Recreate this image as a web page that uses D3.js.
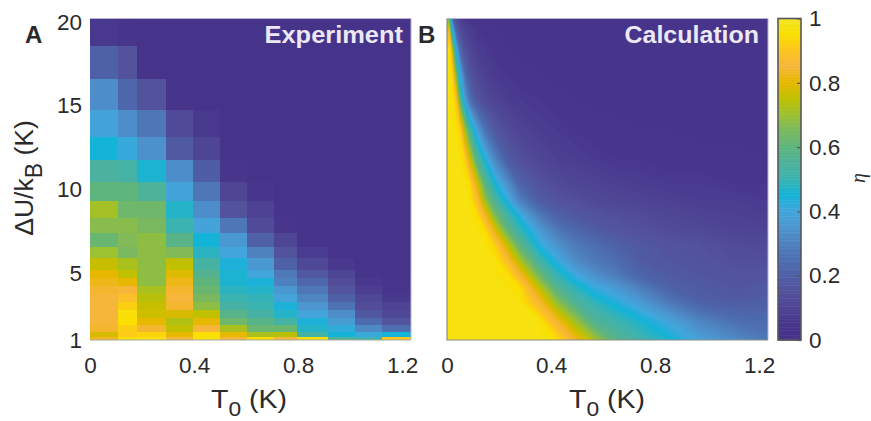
<!DOCTYPE html>
<html>
<head>
<meta charset="utf-8">
<script src="https://cdn.jsdelivr.net/npm/d3@7"></script>
<style>
  body { margin: 0; background: #fff; }
  text { font-family: "Liberation Sans", Arial, sans-serif; fill: #2b2a2b; }
</style>
</head>
<body>
<div id="chart"></div>
<script>
// Colour map
const colorStops = [0, .05, .1, .15, .2, .25, .3, .35, .4, .45, .5, .55, .6, .65, .7, .75, .8, .85, .9, .95, 1];
const colorHex = ['#46328a', '#48368c', '#4e4595', '#53529c', '#4e60a6', '#4d6fb2', '#4e82bf', '#4c95cf', '#42a6dc',
  '#14b3d8', '#3bb3b0', '#4eb29a', '#5eb57c', '#7ab85f', '#9cc131', '#c0c000', '#e6b800', '#f6b63a', '#fcc51d', '#fadf00', '#f2e426'];

// Panel A: measured cells, one array per T0 column, rows from 20 K down to 1 K
const expT0Edges = [0, .108, .181, .292, .396, .5, .604, .708, .796, .915, 1.019, 1.123, 1.234];
const expUEdges = [20, 18.4, 16.4, 14.6, 13, 11.65, 10.35, 9.2, 8.2, 7.3, 6.5, 5.85, 5.15, 4.65, 4.2, 3.7, 3.25, 2.8, 2.3, 1.9, 1.5, 1.2, 1];
const expColumns = [
  [.06, .2, .33, .39, .45, .54, .6, .71, .67, .62, .7, .76, .8, .82, .84, .85, .85, .85, .85, .84, .78, .83],
  [.02, .15, .22, .33, .41, .53, .6, .63, .67, .66, .65, .72, .75, .8, .85, .88, .92, .96, .95, .92, .91, .96],
  [.01, .01, .15, .27, .34, .46, .55, .63, .65, .68, .68, .68, .68, .68, .72, .74, .76, .77, .8, .84, .93, .97],
  [.01, .01, .02, .12, .18, .33, .39, .47, .5, .58, .66, .75, .79, .82, .84, .85, .84, .78, .73, .75, .8, .86],
  [.01, .01, .01, .06, .1, .19, .27, .33, .39, .45, .48, .53, .57, .6, .62, .65, .68, .75, .8, .85, .95, .97],
  [.01, .01, .01, .01, .01, .05, .1, .15, .27, .36, .4, .44, .46, .46, .48, .5, .53, .58, .63, .72, .8, .85],
  [.01, .01, .01, .01, .01, .01, .04, .09, .12, .2, .3, .36, .4, .44, .47, .49, .5, .53, .58, .62, .72, .95],
  [.01, .01, .01, .01, .01, .01, .01, .03, .05, .1, .15, .2, .28, .3, .36, .39, .44, .47, .53, .62, .74, .85],
  [.01, .01, .01, .01, .01, .01, .01, .01, .01, .03, .07, .11, .17, .22, .27, .31, .35, .39, .44, .47, .53, .95],
  [.01, .01, .01, .01, .01, .01, .01, .01, .01, .01, .01, .06, .1, .13, .16, .2, .26, .33, .37, .42, .45, .55],
  [.01, .01, .01, .01, .01, .01, .01, .01, .01, .01, .01, .01, .03, .06, .08, .11, .13, .17, .24, .32, .41, .5],
  [.01, .01, .01, .01, .01, .01, .01, .01, .01, .01, .01, .01, .01, .02, .04, .06, .09, .11, .16, .25, .45, .9]
];

// Panel B: values sampled by eye on a grid that is finer where the band is narrow
const calcT0 = [0, .008, .015, .023, .035, .05, .069, .088, .115, .146, .184, .231, .281, .358, .423, .492, .569, .646, .742, .857, .972, 1.107, 1.234];
const calcU = [20, 19.3, 18.2, 16.7, 15.2, 13.4, 11.65, 10.2, 9.28, 8.4, 7.5, 6.6, 5.73, 4.85, 4.08, 3.25, 2.05, 1];
const calcRows = [
  [.7, .6, .42, .22, .14, .09, .07, .05, .04, .04, .03, .03, .03, .02, .02, .02, .02, .02, .02, .02, .02, .02, .02],
  [.8, .85, .55, .4, .22, .14, .1, .08, .06, .05, .04, .03, .03, .02, .02, .02, .02, .02, .02, .02, .02, .02, .02],
  [.96, .96, .9, .65, .42, .24, .15, .11, .08, .07, .05, .04, .03, .02, .02, .02, .02, .02, .02, .02, .02, .02, .02],
  [.97, .97, .96, .9, .65, .42, .25, .17, .12, .09, .07, .06, .05, .04, .03, .02, .02, .02, .02, .02, .02, .02, .02],
  [.97, .97, .97, .96, .9, .6, .38, .26, .17, .13, .1, .08, .07, .06, .05, .04, .035, .03, .03, .03, .02, .02, .02],
  [.97, .97, .97, .97, .97, .93, .72, .55, .39, .27, .18, .13, .1, .08, .07, .06, .05, .05, .04, .04, .03, .03, .03],
  [.97, .97, .97, .97, .97, .97, .93, .78, .58, .45, .32, .2, .15, .11, .09, .08, .07, .06, .06, .05, .05, .05, .04],
  [.97, .97, .97, .97, .97, .97, .97, .95, .8, .6, .46, .35, .22, .16, .13, .11, .1, .09, .08, .07, .07, .06, .06],
  [.97, .97, .97, .97, .97, .97, .97, .97, .88, .7, .55, .43, .3, .19, .16, .14, .12, .11, .1, .09, .08, .08, .07],
  [.97, .97, .97, .97, .97, .97, .97, .97, .95, .84, .66, .53, .42, .28, .21, .18, .16, .14, .13, .11, .1, .09, .08],
  [.97, .97, .97, .97, .97, .97, .97, .97, .97, .95, .8, .62, .5, .37, .28, .23, .19, .17, .15, .13, .12, .1, .1],
  [.97, .97, .97, .97, .97, .97, .97, .97, .97, .97, .93, .77, .6, .43, .35, .29, .25, .21, .18, .16, .15, .13, .12],
  [.97, .97, .97, .97, .97, .97, .97, .97, .97, .97, .97, .88, .72, .52, .42, .33, .28, .25, .19, .17, .16, .14, .14],
  [.97, .97, .97, .97, .97, .97, .97, .97, .97, .97, .97, .96, .85, .63, .5, .41, .34, .29, .22, .19, .17, .16, .16],
  [.97, .97, .97, .97, .97, .97, .97, .97, .97, .97, .97, .97, .95, .75, .58, .49, .42, .37, .3, .21, .19, .17, .18],
  [.97, .97, .97, .97, .97, .97, .97, .97, .97, .97, .97, .97, .97, .85, .69, .56, .49, .44, .37, .28, .21, .19, .2],
  [.97, .97, .97, .97, .97, .97, .97, .97, .97, .97, .97, .97, .97, .97, .85, .72, .57, .52, .47, .4, .32, .26, .24],
  [.97, .97, .97, .97, .97, .97, .97, .97, .97, .97, .97, .97, .97, .97, .95, .84, .72, .59, .52, .46, .39, .33, .28]
];

// Tick labels
const t0Ticks = [0, .4, .8, 1.2];
const uTicks = [1, 5, 10, 15, 20];
const barTicks = [0, .2, .4, .6, .8, 1];

const width = 871, height = 421;
const plotTop = 18.5, plotBottom = 340;
const panelA = { left: 90, right: 411 };
const panelB = { left: 447, right: 768 };

const color = d3.scaleLinear().domain(colorStops).range(colorHex).clamp(true);
const yScale = d3.scaleLinear().domain([1, 20]).range([plotBottom, plotTop]);
const yLabel = d3.scaleLinear().domain([1, 20]).range([plotBottom, plotTop + 3.5]);
const xA = d3.scaleLinear().domain([0, 1.234]).range([panelA.left, panelA.right]);
const xB = d3.scaleLinear().domain([0, 1.234]).range([panelB.left, panelB.right]);

const svg = d3.select('#chart').append('svg')
  .attr('width', width)
  .attr('height', height)
  .style('display', 'block');

// Panel A cells
svg.append('rect')
  .attr('x', panelA.left)
  .attr('y', plotTop)
  .attr('width', panelA.right - panelA.left)
  .attr('height', plotBottom - plotTop)
  .attr('fill', color(0.01));
const cells = expColumns.flatMap((col, i) => col.map((v, j) => ({ i, j, v })));
svg.append('g')
  .attr('shape-rendering', 'crispEdges')
  .selectAll('rect')
  .data(cells)
  .join('rect')
  .attr('x', d => xA(expT0Edges[d.i]))
  .attr('y', d => yScale(expUEdges[d.j]))
  .attr('width', d => xA(expT0Edges[d.i + 1]) - xA(expT0Edges[d.i]))
  .attr('height', d => yScale(expUEdges[d.j + 1]) - yScale(expUEdges[d.j]))
  .attr('fill', d => color(d.v));

// Panel B as nested filled contours, grid indices mapped back to data units
const nx = calcT0.length, ny = calcU.length;
const colIndex = d3.scaleLinear().domain(d3.range(nx)).range(calcT0).clamp(true);
const rowIndex = d3.scaleLinear().domain(d3.range(ny)).range(calcU).clamp(true);
const contours = d3.contours()
  .size([nx, ny])
  .thresholds(d3.range(0, 1, 0.01))(calcRows.flat());

const projection = d3.geoTransform({
  point(px, py) {
    this.stream.point(xB(colIndex(px - 0.5)), yScale(rowIndex(py - 0.5)));
  }
});
svg.append('rect')
  .attr('x', panelB.left)
  .attr('y', plotTop)
  .attr('width', panelB.right - panelB.left)
  .attr('height', plotBottom - plotTop)
  .attr('fill', color(0));
svg.append('g')
  .selectAll('path')
  .data(contours)
  .join('path')
  .attr('d', d3.geoPath(projection))
  .attr('fill', d => color(d.value));

// Frames
svg.append('path')
  .attr('d', `M${panelA.left},${plotTop}H${panelA.right}V${plotBottom}`)
  .attr('fill', 'none')
  .attr('stroke', '#b9b3d6');
svg.append('path')
  .attr('d', `M${panelA.left},${plotBottom}H${panelA.right}`)
  .attr('fill', 'none')
  .attr('stroke', '#a8a8a0');
svg.append('path')
  .attr('d', `M${panelB.left},${plotTop}H${panelB.right}V${plotBottom}`)
  .attr('fill', 'none')
  .attr('stroke', '#b9b3d6');
svg.append('path')
  .attr('d', `M${panelB.left},${plotTop}V${plotBottom}H${panelB.right}`)
  .attr('fill', 'none')
  .attr('stroke', '#8c8c84')
  .attr('stroke-width', 1.2);

// Axes
function styleAxis(g) {
  g.select('.domain').remove();
  g.selectAll('.tick line').remove();
  g.selectAll('.tick text')
    .style('font-family', '"Liberation Sans", Arial, sans-serif')
    .style('font-size', '22.5px')
    .style('fill', '#2b2a2b');
}
const fmt = d => d === 0 ? '0' : String(d);
svg.append('g')
  .attr('transform', `translate(0,${plotBottom})`)
  .call(d3.axisBottom(xA).tickValues(t0Ticks).tickFormat(fmt).tickSize(0).tickPadding(17))
  .call(styleAxis);
svg.append('g')
  .attr('transform', `translate(0,${plotBottom})`)
  .call(d3.axisBottom(xB).tickValues(t0Ticks).tickFormat(fmt).tickSize(0).tickPadding(17))
  .call(styleAxis);
svg.append('g')
  .attr('transform', 'translate(82,0)')
  .call(d3.axisLeft(yLabel).tickValues(uTicks).tickSize(0).tickPadding(0))
  .call(styleAxis);

// Axis titles with subscripts
function t0Title(cx) {
  const t = svg.append('text')
    .attr('transform', `translate(${cx},408) scale(1.14,1)`)
    .attr('text-anchor', 'middle')
    .attr('font-size', 25);
  t.append('tspan').text('T');
  t.append('tspan').attr('dy', 8).attr('font-size', 20).text('0');
  t.append('tspan').attr('dy', -8).text(' (K)');
}
t0Title(249);
t0Title(607);

const yTitle = svg.append('text')
  .attr('transform', 'translate(33,178) rotate(-90)')
  .attr('text-anchor', 'middle')
  .attr('font-size', 26.5);
yTitle.append('tspan').text('\u0394U/k');
yTitle.append('tspan').attr('dy', 9).attr('font-size', 23).text('B');
yTitle.append('tspan').attr('dy', -9).text(' (K)');

// Panel letters and names
svg.append('text').attr('x', 25).attr('y', 43).attr('font-size', 24).attr('font-weight', 'bold').text('A');
svg.append('text').attr('x', 418).attr('y', 43).attr('font-size', 24).attr('font-weight', 'bold').text('B');
svg.append('text')
  .attr('transform', 'translate(403,43) scale(1.06,1)')
  .attr('text-anchor', 'end')
  .attr('font-size', 24)
  .attr('font-weight', 'bold')
  .style('fill', '#ece8f4')
  .text('Experiment');
svg.append('text')
  .attr('transform', 'translate(759,43) scale(1.04,1)')
  .attr('text-anchor', 'end')
  .attr('font-size', 24)
  .attr('font-weight', 'bold')
  .style('fill', '#ece8f4')
  .text('Calculation');

// Colour bar
const barX = 778, barW = 23;
const barScale = d3.scaleLinear().domain([0, 1]).range([plotBottom, plotTop]);
const barSteps = d3.range(0, 1, 0.005);
svg.append('g')
  .selectAll('rect')
  .data(barSteps)
  .join('rect')
  .attr('x', barX)
  .attr('width', barW)
  .attr('y', d => barScale(d + 0.005))
  .attr('height', (plotBottom - plotTop) * 0.005 + 0.5)
  .attr('fill', d => color(d));
svg.append('rect')
  .attr('x', barX)
  .attr('y', plotTop)
  .attr('width', barW)
  .attr('height', plotBottom - plotTop)
  .attr('fill', 'none')
  .attr('stroke', '#58585a')
  .attr('stroke-width', 1.6);
const barAxis = svg.append('g')
  .attr('transform', `translate(${barX + barW},0)`)
  .call(d3.axisRight(barScale).tickValues(barTicks).tickFormat(fmt).tickSize(-4).tickPadding(8));
barAxis.select('.domain').remove();
barAxis.selectAll('.tick line').attr('stroke', '#58585a').attr('stroke-width', 1.2);
barAxis.selectAll('.tick text')
  .style('font-family', '"Liberation Sans", Arial, sans-serif')
  .style('font-size', '22.5px')
  .style('fill', '#2b2a2b');

svg.append('text')
  .attr('transform', 'translate(865,178) rotate(-90)')
  .attr('text-anchor', 'middle')
  .style('font-family', '"Liberation Serif", serif')
  .style('font-style', 'italic')
  .attr('font-size', 20)
  .text('\u03b7');
</script>
</body>
</html>
